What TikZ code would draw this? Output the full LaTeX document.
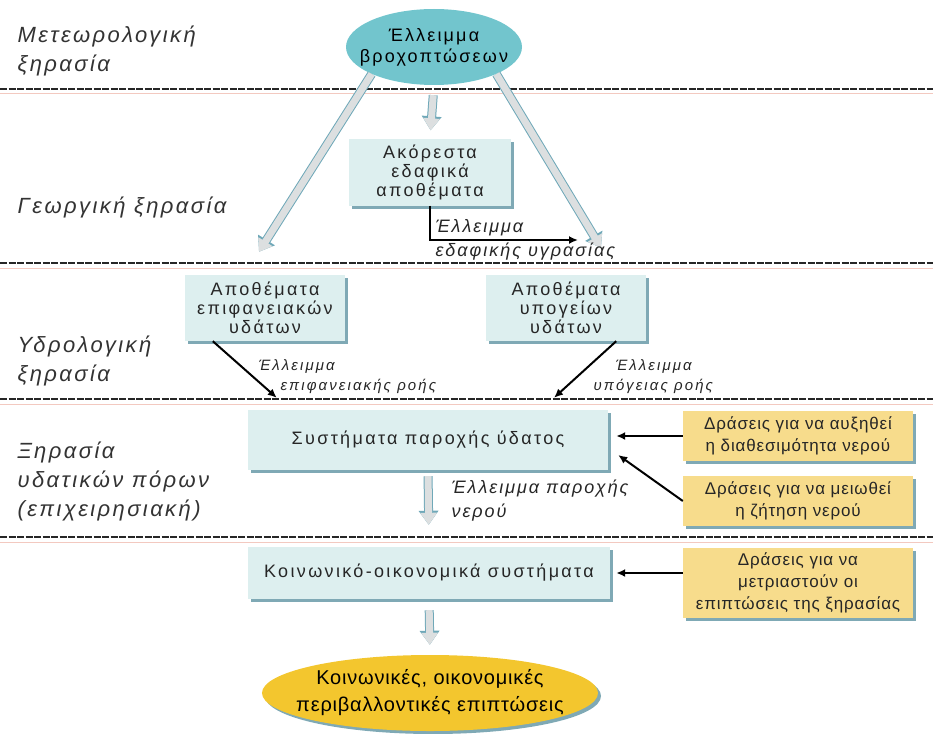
\documentclass[tikz,border=0pt]{standalone}
\usepackage{fontspec}
\setmainfont{Liberation Sans}
\usepackage{xcolor}
\usetikzlibrary{arrows.meta,positioning,calc,shadows,shapes.geometric}
\definecolor{boxfill}{HTML}{DDEFEF}
\definecolor{boxshade}{HTML}{7FA9B5}
\definecolor{actfill}{HTML}{F7DC8C}
\definecolor{rainfill}{HTML}{72C5CD}
\definecolor{impactfill}{HTML}{F3C62E}
\definecolor{arrowgray}{HTML}{DCDFE0}
\definecolor{arrowedge}{HTML}{6FA8B8}
\definecolor{sepred}{HTML}{F3C9C0}

\begin{document}
\begin{tikzpicture}[x=1pt, y=-1pt,
    box/.style={fill=boxfill, align=center, inner sep=2pt, text=black!85,
        font=\addfontfeatures{LetterSpace=13}\fontsize{18}{19}\selectfont,
        drop shadow={shadow xshift=3pt, shadow yshift=-3pt, fill=boxshade, opacity=1}},
    actbox/.style={box, fill=actfill, font=\addfontfeatures{LetterSpace=5}\fontsize{17}{22}\selectfont},
    phase/.style={anchor=west, align=left, text=black!80,
        font=\itshape\addfontfeatures{LetterSpace=11}\fontsize{22}{29}\selectfont},
    deficit/.style={anchor=west, align=left, text=black!85,
        font=\itshape\addfontfeatures{LetterSpace=11}\fontsize{18}{24}\selectfont},
    smalldef/.style={anchor=west, text=black!85,
        font=\itshape\addfontfeatures{LetterSpace=14}\fontsize{15}{16}\selectfont},
    fatarrow/.style={line width=7pt, draw=arrowgray,
        -{Triangle[length=12pt, width=16pt]},
        preaction={draw=arrowedge, line width=9pt, -{Triangle[length=14pt, width=19pt]}}},
    blackarrow/.style={line width=2pt, black, -{Latex[length=9pt, width=8pt]}}]
    \useasboundingbox (0,0) rectangle (933,733);

    % Separators between drought types
    \foreach \y in {89,263,399,537} {
        \draw[sepred, line width=1pt] (0,\y+5) -- (933,\y+5);
        \draw[black!85, line width=1.6pt, dash pattern=on 7pt off 1.5pt] (0,\y) -- (933,\y);
    }

    % Drought types (left column)
    \node[phase] (meteo) at (14,51) {Μετεωρολογική\\ξηρασία};
    \node[phase] (agri) at (14,207) {Γεωργική ξηρασία};
    \node[phase] (hydro) at (14,361) {Υδρολογική\\ξηρασία};
    \node[phase] (oper) at (14,481) {Ξηρασία\\υδατικών πόρων\\(επιχειρησιακή)};

    % Main chain
    \node[ellipse, fill=rainfill, minimum width=176pt, minimum height=76pt, align=center,
        font=\addfontfeatures{LetterSpace=12}\fontsize{18}{21}\selectfont,
        inner xsep=-14pt, inner ysep=0pt]
        (rain) at (434,47) {Έλλειμμα\\βροχοπτώσεων};
    \node[box, minimum width=162pt, minimum height=67pt] (soil) at (430,172) {Ακόρεστα\\εδαφικά\\αποθέματα};
    \node[box, minimum width=160pt, minimum height=66pt] (surf) at (265,308) {Αποθέματα\\επιφανειακών\\υδάτων};
    \node[box, minimum width=160pt, minimum height=66pt] (gw) at (566,308) {Αποθέματα\\υπογείων\\υδάτων};
    \node[box, minimum width=360pt, minimum height=60pt] (sup) at (428,440) {Συστήματα παροχής ύδατος};
    \node[box, minimum width=362pt, minimum height=52pt] (soc) at (429,573) {Κοινωνικό-οικονομικά συστήματα};
    \node[ellipse, fill=impactfill, minimum width=336pt, minimum height=76pt, align=center,
        font=\addfontfeatures{LetterSpace=4}\fontsize{20}{27}\selectfont,
        inner xsep=-15pt, inner ysep=0pt,
        drop shadow={shadow xshift=3pt, shadow yshift=-3pt, fill=boxshade, opacity=1}]
        (impact) at (430,693) {Κοινωνικές, οικονομικές\\περιβαλλοντικές επιπτώσεις};

    % Actions (right column)
    \node[actbox, minimum width=230pt, minimum height=50pt] (more) at (798,436) {Δράσεις για να αυξηθεί\\η διαθεσιμότητα νερού};
    \node[actbox, minimum width=230pt, minimum height=50pt] (less) at (798,501) {Δράσεις για να μειωθεί\\η ζήτηση νερού};
    \node[actbox, minimum width=230pt, minimum height=70pt] (mitig) at (798,583) {Δράσεις για να\\μετριαστούν οι\\επιπτώσεις της ξηρασίας};

    % Broad grey arrows
    \draw[fatarrow, shorten <=10pt, shorten >=8pt] (rain.south) -- (soil.north);
    \draw[fatarrow] (rain.south west) -- ($(surf.north)+(-6,-23)$);
    \draw[fatarrow] (rain.south east) -- ($(gw.north)+(35,-27)$);
    \draw[fatarrow, shorten <=6pt, shorten >=22pt] (sup.south) -- (soc.north);
    \draw[fatarrow, shorten <=11pt, shorten >=10pt] (soc.south) -- (impact.north);

    % Soil moisture deficit
    \coordinate (moist) at (578,240);
    \draw[line width=2.2pt, -{Latex[length=9pt, width=8pt]}] (soil.south) |- (moist);
    \node[deficit] (moistlbl) at (432,240) {Έλλειμμα\\εδαφικής υγρασίας};

    % Flow deficits
    \draw[blackarrow] ($(surf.south west)+(28,0)$) -- ($(sup.north west)+(29,-12)$);
    \draw[blackarrow] ($(gw.south east)+(-30,0)$) -- ($(sup.north)+(126,-12)$);
    \node[smalldef] (surflbl1) at (255,366) {Έλλειμμα};
    \node[smalldef] (surflbl2) at (277,386) {επιφανειακής ροής};
    \node[smalldef] (gwlbl1) at (612,366) {Έλλειμμα};
    \node[smalldef] (gwlbl2) at (590,386) {υπόγειας ροής};

    % Supply deficit
    \node[deficit] (suplbl) at (448,501) {Έλλειμμα παροχής\\νερού};

    % Actions acting on the systems
    \draw[blackarrow, shorten >=8pt] (more.west) -- (more.west -| sup.east);
    \draw[blackarrow] (less.west) -- ($(sup.east)+(10,15)$);
    \draw[blackarrow, shorten >=6pt] (mitig.west |- soc.east) -- (soc.east);
\end{tikzpicture}
\end{document}
